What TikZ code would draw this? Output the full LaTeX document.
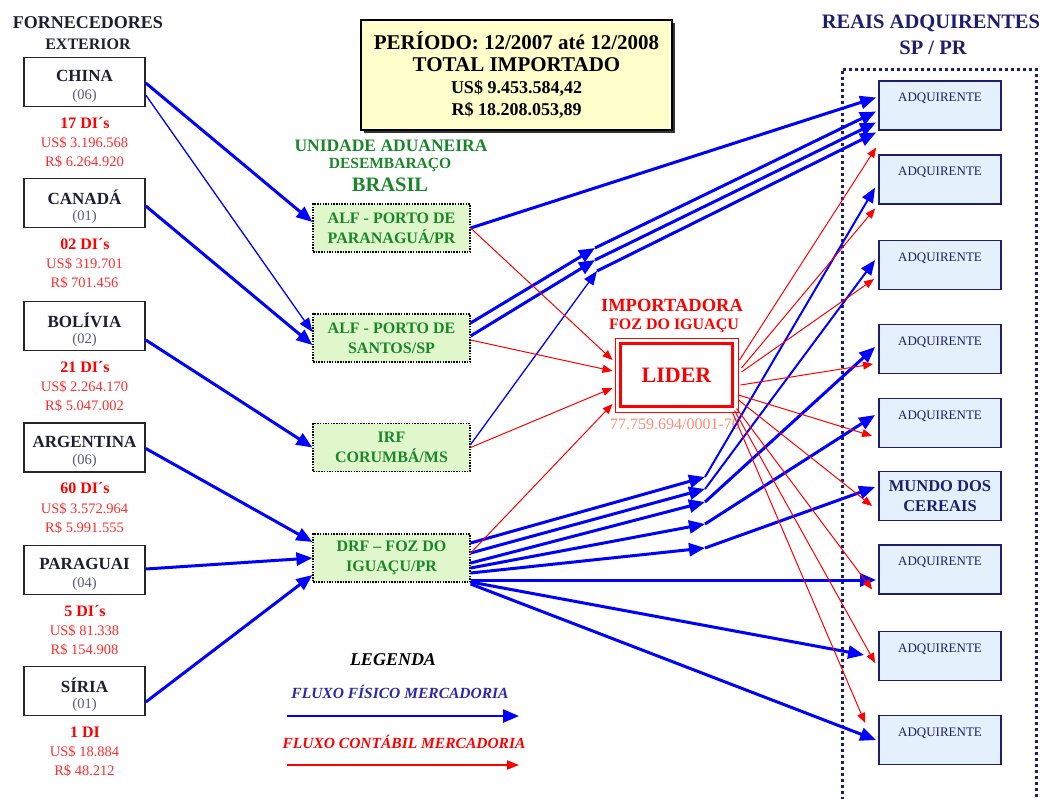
\documentclass[tikz,border=0pt]{standalone}
\usepackage{fontspec}
\setmainfont{Liberation Serif}
\usetikzlibrary{arrows.meta,calc,shadows}
\definecolor{phblue}{RGB}{0,0,255}
\definecolor{acred}{RGB}{255,0,0}
\definecolor{dred}{RGB}{255,45,45}
\definecolor{grn}{RGB}{25,135,40}
\definecolor{grnfill}{RGB}{224,247,204}
\definecolor{navy}{RGB}{30,30,110}
\definecolor{adqfill}{RGB}{228,240,252}
\definecolor{yelfill}{RGB}{255,255,204}
\definecolor{numgray}{RGB}{90,90,115}
\definecolor{salmon}{RGB}{255,140,120}
\definecolor{legblue}{RGB}{40,40,170}
\definecolor{darktitle}{RGB}{30,30,50}
\begin{document}
\begin{tikzpicture}[x=1pt,y=-1pt,
  cbox/.style={draw=black!85, line width=1.6pt, fill=white, minimum width=121pt, minimum height=49pt, inner sep=0},
  cname/.style={font=\fontsize{17}{17}\selectfont\bfseries, text=darktitle, inner sep=0},
  cnum/.style={font=\fontsize{14.5}{15}\selectfont, text=numgray, inner sep=0},
  dis/.style={font=\fontsize{16}{16}\selectfont\bfseries, text=acred, inner sep=0},
  money/.style={font=\fontsize{14.5}{15}\selectfont, text=dred, inner sep=0},
  ubox/.style={draw=black, line width=1.2pt, dash pattern=on 1.5pt off 1.2pt, fill=grnfill, minimum width=157pt, minimum height=48pt, align=center, text=grn, font=\fontsize{16}{20}\selectfont\bfseries, inner sep=0},
  abox/.style={draw=navy, line width=1.8pt, fill=adqfill, minimum width=122pt, minimum height=49pt, inner sep=0},
  atext/.style={font=\fontsize{13}{13}\selectfont, text=navy, inner sep=0},
  gtitle/.style={text=grn, inner sep=0},
  ptext/.style={font=\fontsize{21}{21}\selectfont\bfseries, inner sep=0},
  phys/.style={draw=phblue, line width=3pt, -{Triangle[length=16pt,width=13pt]}},
  physm/.style={phys, line width=2pt, -{Triangle[length=15pt,width=12pt]}},
  phyt/.style={phys, line width=1.3pt, -{Triangle[length=14pt,width=11pt]}},
  acct/.style={draw=acred, line width=1pt, -{Triangle[length=10pt,width=8pt]}}
]
\useasboundingbox (0,0) rectangle (1046,798);
\fill[white] (0,0) rectangle (1046,798);

% container of the buyers
\draw[navy, line width=3pt, dash pattern=on 3pt off 3pt] (842,800) -- (842,69) -- (1036,69) -- (1036,800);

% titles
\node[font=\fontsize{18}{18}\selectfont\bfseries, text=darktitle, inner sep=0] (tforn) at (88,23) {FORNECEDORES};
\node[font=\fontsize{16}{16}\selectfont\bfseries, text=darktitle, inner sep=0] (text) at (88,44) {EXTERIOR};
\node[font=\fontsize{20.5}{21}\selectfont\bfseries, text=navy, inner sep=0] (treais) at (931,23) {REAIS ADQUIRENTES};
\node[font=\fontsize{20.5}{21}\selectfont\bfseries, text=navy, inner sep=0] (tsp) at (933,48) {SP / PR};
\node[gtitle, font=\fontsize{17.5}{18}\selectfont\bfseries] (tuni) at (391,146) {UNIDADE ADUANEIRA};
\node[gtitle, font=\fontsize{15.5}{16}\selectfont\bfseries] (tdes) at (390,165) {DESEMBARAÇO};
\node[gtitle, font=\fontsize{20.5}{21}\selectfont\bfseries] (tbra) at (390,185) {BRASIL};

% period box
\node[draw=black, line width=1.5pt, fill=yelfill, minimum width=311pt, minimum height=110pt,
      drop shadow={shadow xshift=2.5pt, shadow yshift=-2.5pt, fill=black!80, opacity=1}] (periodo) at (516.5,75) {};
\node[ptext] (p1) at (516.5,41) {PERÍODO: 12/2007 até 12/2008};
\node[ptext] (p2) at (516.5,65) {TOTAL IMPORTADO};
\node[ptext, font=\fontsize{18}{18}\selectfont\bfseries] (p3) at (516.5,88) {US\$ 9.453.584,42};
\node[ptext, font=\fontsize{18}{18}\selectfont\bfseries] (p4) at (516.5,110) {R\$ 18.208.053,89};

% suppliers
\foreach \id/\yy/\nm/\nu/\di/\us/\rs in {china/82/CHINA/06/17 DI´s/3.196.568/6.264.920,
  canada/203/CANADÁ/01/02 DI´s/319.701/701.456,
  bolivia/326/BOLÍVIA/02/21 DI´s/2.264.170/5.047.002,
  argentina/447.5/ARGENTINA/06/60 DI´s/3.572.964/5.991.555,
  paraguai/570/PARAGUAI/04/5 DI´s/81.338/154.908,
  siria/691/SÍRIA/01/1 DI/18.884/48.212}{
  \node[cbox] (\id) at (84.5,\yy) {};
  \node[cname] (\id-n) at (84.5,\yy-6) {\nm};
  \node[cnum] (\id-c) at (84.5,\yy+14) {(\nu)};
  \node[dis] (\id-d) at (85,\yy+41) {\di};
  \node[money] (\id-u) at (84.5,\yy+61) {US\$ \us};
  \node[money] (\id-r) at (84.5,\yy+80) {R\$ \rs};
}

% customs units
\node[ubox] (parana) at (391.5,228) {ALF - PORTO DE\\PARANAGUÁ/PR};
\node[ubox] (santos) at (391.5,338) {ALF - PORTO DE\\SANTOS/SP};
\node[ubox] (irf) at (391.5,447.5) {IRF\\CORUMBÁ/MS};
\node[ubox] (drf) at (391.5,558) {DRF – FOZ DO\\IGUAÇU/PR};

% importer
\node[font=\fontsize{18.5}{19}\selectfont\bfseries, text=acred, inner sep=0] (timp) at (672,305) {IMPORTADORA};
\node[font=\fontsize{16}{16}\selectfont\bfseries, text=acred, inner sep=0] (tfoz) at (674,326) {FOZ DO IGUAÇU};
\node[draw=acred, line width=1pt, fill=white, minimum width=123pt, minimum height=74pt, inner sep=0,
      font=\fontsize{22}{22}\selectfont\bfseries, text=acred] (lider) at (676.5,375) {LIDER};
\draw[acred, line width=3.5pt] ($(lider.north west)+(6,6)$) rectangle ($(lider.south east)+(-6,-6)$);
\node[font=\fontsize{16}{16}\selectfont, text=salmon, inner sep=0] (cnpj) at (675,424) {77.759.694/0001-70};

% buyers
\foreach \id/\yy in {a1/105.5, a2/179.5, a3/265, a4/349, a5/423, a7/569.5, a8/656, a9/740}{
  \node[abox] (\id) at (940,\yy) {};
  \node[atext] (\id-t) at (940,\yy-7) {ADQUIRENTE};
}
\node[abox, align=center, font=\fontsize{16.5}{20}\selectfont\bfseries, text=navy] (m) at (940,496) {MUNDO DOS\\CEREAIS};

% mid points of the physical flow
\coordinate (m1) at (595,248);
\coordinate (m2) at (595,260);
\coordinate (m3) at (597,271);
\coordinate (n1) at (705,477);
\coordinate (n2) at (705,489);
\coordinate (n3) at (705,502);
\coordinate (n4) at (705,524);
\coordinate (n5) at (705,548);

% physical flow: suppliers -> customs
\draw[phys] ($(china.east)+(0,1)$) -- ($(parana.west)+(0,-6)$);
\draw[phyt] ($(china.east)+(0,13)$) -- ($(santos.west)+(0,-6)$);
\draw[phys] ($(canada.east)+(0,3)$) -- ($(santos.west)+(0,7)$);
\draw[phys] ($(bolivia.east)+(0,14)$) -- (irf.west);
\draw[phys] ($(argentina.east)+(0,1)$) -- ($(drf.west)+(0,-16)$);
\draw[phys] ($(paraguai.east)+(0,-1)$) -- (drf.west);
\draw[phys] ($(siria.east)+(0,11)$) -- ($(drf.west)+(0,17)$);

% physical flow: customs -> buyers
\draw[phys] (parana.east) -- ($(a1.west)+(-2,-8)$);
\draw[phys] ($(santos.east)+(0,-15)$) -- (m1);
\draw[phys] ($(santos.east)+(0,-2)$) -- (m2);
\draw[phyt] ($(irf.east)+(0,-3)$) -- (m3);
\draw[phys] (m1) -- ($(a1.west)+(-2,6)$);
\draw[phys] (m2) -- ($(a1.west)+(-2,17)$);
\draw[phys] (m3) -- ($(a1.west)+(-2,27)$);

\draw[phys] ($(drf.east)+(0,-15)$) -- (n1);
\draw[phys] ($(drf.east)+(0,-5)$) -- (n2);
\draw[phys] ($(drf.east)+(0,5)$) -- (n3);
\draw[phys] ($(drf.east)+(0,10)$) -- (n4);
\draw[phys] ($(drf.east)+(0,15)$) -- (n5);
\draw[phys] ($(drf.east)+(0,22)$) -- ($(a7.west)+(-2,10.5)$);
\draw[phys] ($(drf.east)+(0,24)$) -- ($(a8.west)+(-14,-1)$);
\draw[phys] ($(drf.east)+(0,26)$) -- ($(a9.west)+(-2,0)$);

\draw[physm] (n1) -- ($(a2.west)+(-3,8)$);
\draw[physm] (n2) -- ($(a3.west)+(-3,-5)$);
\draw[phys] (n3) -- ($(a4.west)+(-3,-2)$);
\draw[phys] (n4) -- ($(a5.west)+(-3,-8)$);
\draw[phys] (n5) -- ($(m.west)+(-3,-9)$);

% accounting flow
\draw[acct] (parana.east) -- ($(lider.west)+(-2,-15)$);
\draw[acct] ($(santos.east)+(0,2)$) -- ($(lider.west)+(-2,-4)$);
\draw[acct] (irf.east) -- ($(lider.west)+(-2,13)$);
\draw[acct] ($(drf.east)+(0,-5)$) -- ($(lider.west)+(-2,29)$);

\draw[acct] ($(lider.east)+(1,-15)$) -- ($(a1.west)+(-2,42)$);
\draw[acct] ($(lider.east)+(3,-7)$) -- ($(a2.west)+(-3,29)$);
\draw[acct] ($(lider.east)+(3,-3)$) -- ($(a3.west)+(-4,14)$);
\draw[acct] ($(lider.east)+(2,10)$) -- ($(a4.west)+(-5,15)$);
\draw[acct] ($(lider.east)+(0,20)$) -- ($(a5.west)+(-6,13)$);
\draw[acct] ($(lider.east)+(0,25)$) -- ($(m.west)+(-6,10)$);
\draw[acct] ($(lider.south east)+(-2,-4)$) -- ($(a7.west)+(-6,20)$);
\draw[acct] ($(lider.south east)+(-4,-2)$) -- ($(a8.west)+(-3,7)$);
\draw[acct] ($(lider.south east)+(-6,0)$) -- ($(a9.west)+(-13,-17)$);

% legend
\node[font=\fontsize{18}{18}\selectfont\bfseries\itshape, inner sep=0] (legenda) at (393,660) {LEGENDA};
\node[font=\fontsize{15.5}{16}\selectfont\bfseries\itshape, text=legblue, inner sep=0] (legfis) at (400,692) {FLUXO FÍSICO MERCADORIA};
\coordinate (lf1) at (287,716);
\coordinate (lf2) at (519,716);
\draw[phys, line width=2.5pt] (lf1) -- (lf2);
\node[font=\fontsize{15.5}{16}\selectfont\bfseries\itshape, text=acred, inner sep=0] (legcont) at (404,742) {FLUXO CONTÁBIL MERCADORIA};
\coordinate (lc1) at (287,765);
\coordinate (lc2) at (519,765);
\draw[acct, line width=2pt, -{Triangle[length=12pt,width=9pt]}] (lc1) -- (lc2);
\end{tikzpicture}
\end{document}
